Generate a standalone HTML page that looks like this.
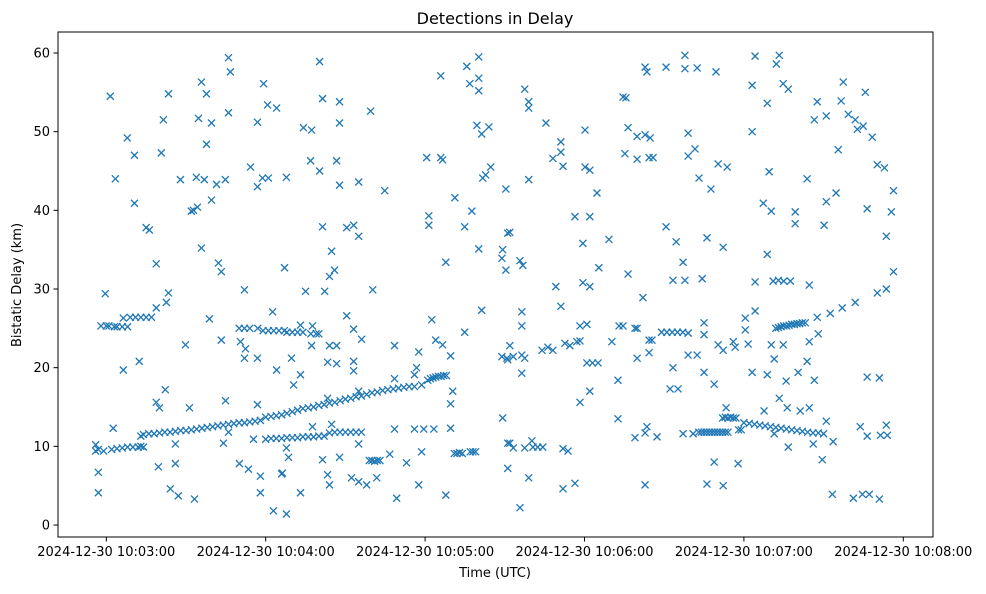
<!DOCTYPE html>
<html>
<head>
<meta charset="utf-8">
<style>
  html,body{margin:0;padding:0;background:#fff;}
  body{width:986px;height:590px;overflow:hidden;font-family:"DejaVu Sans","Liberation Sans",sans-serif;}
  svg text{font-family:"DejaVu Sans","Liberation Sans",sans-serif;fill:#000;}
</style>
</head>
<body>
<svg id="chart" width="986" height="590" viewBox="0 0 986 590" xmlns="http://www.w3.org/2000/svg">
  <rect x="0" y="0" width="986" height="590" fill="#fff"/>
  <text x="495" y="24" font-size="16" text-anchor="middle">Detections in Delay</text>
  <g id="marks"></g>
  <g id="xticks"></g>
  <g id="yticks"></g>
  <rect x="58" y="32" width="875" height="505" fill="none" stroke="#000" stroke-width="1"/>
  <text x="495" y="577" font-size="13" text-anchor="middle">Time (UTC)</text>
  <text x="21" y="285" font-size="13" text-anchor="middle" transform="rotate(-90 21 285)">Bistatic Delay (km)</text>
</svg>
<script>
// time in seconds after 2024-12-30 10:03:00 UTC, delay in km
const xTickLabels = ["2024-12-30 10:03:00","2024-12-30 10:04:00","2024-12-30 10:05:00","2024-12-30 10:06:00","2024-12-30 10:07:00","2024-12-30 10:08:00"];
const xTickValues = [0,60,120,180,240,300];
const yTickValues = [0,10,20,30,40,50,60];

const trackA = [[-4,9.4],[-3,9.6],[-1,9.4],[2,9.6],[4,9.7],[6,9.8],[8,9.9],[10,9.9],[12,9.9],[13,10.0],[14,9.9],
[13,11.3],[14,11.5],[16,11.6],[18,11.6],[20,11.7],[22,11.8],[24,11.8],[26,11.9],[28,12.0],[30,12.0],[32,12.1],[34,12.2],[36,12.3],[38,12.4],[40,12.5],[42,12.6],[44,12.7],[46,12.8],[48,12.9],[50,13.0],[52,13.0],[54,13.1],[56,13.2],[58,13.3],
[60,13.7],[62,13.8],[64,13.9],[66,14.0],[68,14.2],[70,14.4],[72,14.6],[74,14.8],[76,14.9],[78,15.0],[80,15.2],[82,15.3],[84,15.5],[86,15.6],[88,15.8],[90,16.0],[92,16.1],[94,16.3],[96,16.4],[98,16.6],[100,16.8],[102,16.9],[104,17.1],[106,17.2],[108,17.3],[110,17.4],[112,17.5],[114,17.6],[116,17.6],
[121,18.4],[122,18.6],[123,18.7],[124,18.8],[125,18.9],[126,18.9],[127,19.0],[128,19.0]];

const trackB = [[60,10.9],[62,11.0],[64,11.0],[66,11.0],[68,11.1],[70,11.1],[72,11.1],[74,11.2],[76,11.2],[78,11.2],[80,11.3],[82,11.3],[84,11.7],[86,11.8],[88,11.8],[90,11.8],[92,11.8],[94,11.8],[96,11.8],
[99,8.2],[100,8.2],[101,8.1],[102,8.2],[103,8.2],[131,9.1],[132,9.1],[133,9.2],[134,9.1],[137,9.3],[138,9.3],[139,9.3]];

const trackC = [[-2,25.3],[0,25.3],[1,25.3],[3,25.2],[4,25.2],[6,25.2],[8,25.2],[9,26.4],[11,26.4],[13,26.4],[15,26.4],[17,26.4],
[50,25.0],[52,25.0],[54,25.0],[57,25.0],[59,24.7],[61,24.7],[63,24.7],[65,24.7],[67,24.7],[68,24.5],[70,24.5],[72,24.5],[74,24.5],[77,24.3],[79,24.3],[80,24.3],
[209,24.5],[211,24.5],[213,24.5],[215,24.5],[217,24.5],[219,24.4],
[252,25.0],[253,25.1],[254,25.2],[255,25.3],[256,25.3],[257,25.4],[258,25.5],[259,25.5],[260,25.6],[261,25.6],[262,25.7]];

const trackD = [[223,11.8],[224,11.8],[225,11.8],[226,11.8],[227,11.8],[228,11.8],[229,11.8],[230,11.8],[231,11.8],[232,11.8],[233,11.8],[234,11.8],
[232,13.6],[233,13.7],[234,13.6],[235,13.7],[236,13.6],[237,13.6],[238,12.1],[239,12.1],
[240,13.0],[242,12.9],[244,12.8],[246,12.7],[248,12.6],[250,12.5],[252,12.4],[254,12.3],[256,12.2],[258,12.1],[260,12.0],[262,11.9],[264,11.8],[266,11.7],[268,11.7],[270,11.6]];

const scattered = [[-4,10.2],[-3,6.7],[-3,4.1],[-0.4,29.4],[1.5,54.5],[2.6,12.3],[3.4,44],[6.4,26.3],[6.4,19.7],[7.9,49.2],[10.6,47],[10.6,40.9],[12.4,20.8],
[15,37.8],[16.2,37.5],[18.8,33.2],[18.8,27.6],[22.6,28.3],[23.4,29.5],[20.7,47.3],[21.5,51.5],[23.4,54.8],[27.9,43.9],[32,39.9],[32.8,40],[34.3,40.4],[34.7,51.7],[35.8,56.3],[37.7,54.8],[37.7,48.4],[33.9,44.2],[36.9,43.9],[39.6,51.1],[39.6,41.3],[41.5,43.3],[44.8,43.9],[46,59.4],[46.7,57.6],[46,52.4],[54.3,45.5],[56.9,51.2],[56.9,43],[58.8,44.1],[61,44.1],[59.2,56.1],[60.7,53.4],[64.1,53],[35.8,35.2],[42.2,33.3],[43.3,32.2],[52,29.9],[62.6,27.1],[38.8,26.2],[29.8,22.9],[43.3,23.5],[50.5,23.3],[52.4,22.4],[52,21.2],[56.9,21.2],[64.1,19.7],[67.1,32.7],[22.2,17.2],[18.8,15.6],[20,14.9],[31.3,14.9],[44.9,15.8],[56.9,15.3],[26,10.3],[44.1,10.4],[46,11.8],[55.4,10.9],[19.6,7.4],[26,7.8],[50.1,7.8],[53.5,7.1],[58,6.2],[66,6.5],[24.1,4.6],[27.1,3.7],[33.2,3.3],[58,4.1],[62.9,1.8],
[80.3,58.9],[81.4,54.2],[87.8,53.8],[87.8,51.1],[99.5,52.6],[74.2,50.5],[77.3,50.2],[76.9,46.3],[80.3,45],[86.7,46.3],[87.8,43.2],[95,43.6],[104.8,42.5],[67.8,44.2],[81.4,37.9],[90.5,37.8],[93.1,38.1],[95,36.7],[84.8,34.8],[84,31.6],[85.9,32.4],[75,29.7],[82.2,29.7],[100.3,29.9],[90.5,26.6],[93.1,24.9],[96.1,23.6],[73.1,25.4],[77.6,25.3],[77.3,22.8],[84,22.8],[86.7,22.8],[69.7,21.2],[83.3,20.7],[86.7,20.5],[93.1,20.8],[93.1,19.6],[73.1,19.1],[70.5,17.8],[83.3,16.1],[95,17],[77.6,12.5],[84.8,12.8],[95,10.3],[67.8,9.8],[68.6,8.6],[81.4,8.3],[87.8,8.6],[66.3,6.6],[83.3,6.4],[84,5.1],[92.3,6],[95,5.5],[98,5.1],[101.8,6],[73.1,4.1],[67.8,1.4],
[108.5,22.8],[108.5,18.6],[106.7,9],[108.5,12.2],[113,7.9],[117.6,22],[116.8,20],[116,19.1],[118.7,17.8],[116,12.2],[119.5,12.2],[123.3,12.2],[118.7,9.3],[117.6,5.1],[109.3,3.4],[127.8,3.8],[129.6,12.3],[129.6,15.4],[130.4,17],[129.6,21.5],[126.6,22.9],[124,23.5],[122.5,26.1],[134.9,24.5],[127.8,33.4],[121.4,39.3],[121.4,38.1],[134.9,37.9],[137.6,39.9],[131.2,41.6],[120.6,46.7],[125.9,46.7],[126.6,46.4],[125.9,57.1],[135.7,58.3],[140.2,59.5],[136.8,56.1],[140.2,56.8],[140.2,55.2],[139.5,50.8],[144,50.6],[141.3,49.7],[141.7,44.1],[142.8,44.5],[144.7,45.5],[140.2,35.1],[141.3,27.3],[150.4,42.7],[151.1,37.1],[148.9,33.9],[150.4,32.4],[149.2,35],[148.9,21.4],[151.1,21],[149.2,13.6],[151.1,10.4],[151.1,7.2],
[157.5,55.4],[159,53.8],[159,53],[165.5,51.1],[171.1,48.7],[171.1,47.4],[168.1,46.6],[171.9,45.6],[180.2,50.2],[180.2,45.5],[182,45.1],[184.7,42.2],[159,43.9],[176.4,39.2],[182,39.2],[151.9,37.2],[155.7,33.6],[156.8,33],[179.4,35.8],[189.2,36.3],[185.4,32.7],[169.2,30.3],[171.1,27.8],[179.4,30.8],[182,30.3],[156.4,27.1],[156.4,25.3],[151.9,22.8],[150.8,21.2],[153.2,21.4],[156.4,21.6],[157.5,21.2],[156.4,19.3],[164,22.2],[166.2,22.6],[168.1,22.2],[172.6,23.1],[174.5,22.8],[177.1,23.3],[178.3,23.4],[178.3,25.3],[180.9,25.5],[180.9,20.6],[183,20.6],[185.1,20.6],[178.3,15.6],[182,17],[190.3,23.3],[192.6,18.4],[192.6,13.5],[193,25.3],[194.5,25.3],[199,25],[199.8,25],[202,28.9],[196.4,31.9],[199.8,21.2],[204.3,21.9],[204.3,23.5],[205.4,23.5],[203.5,12.5],[202.8,11.7],[199,11.1],[207.3,11.2],[202.8,5.1],[210.7,37.9],[214.5,36],[217.1,33.4],[213.3,31.1],[217.8,31.1],[224.3,31.3],[226.1,36.5],[232.2,35.3],[219,24.4],[225,24.2],[225,25.7],[230.3,22.9],[232.2,22.2],[219,21.6],[222.4,21.6],[213.3,20],[212.2,17.3],[215.2,17.3],[225,19.4],[228.8,17.9],[210.7,58.2],[217.8,58],[222.4,58.1],[202.8,58.2],[203.5,57.6],[229.5,57.6],[217.8,59.7],[194.5,54.4],[195.6,54.3],[196.4,50.5],[199.8,49.4],[202.8,49.6],[204.7,49.2],[195.2,47.2],[199.8,46.5],[204.3,46.7],[205.8,46.7],[219,49.8],[221.6,47.8],[219,46.9],[223.1,44.1],[227.6,42.7],[230.3,45.9],[233.7,45.5],[159,6],[171.9,4.6],[176.4,5.3],[155.7,2.2],[151.9,10.4],[153.2,9.8],[157.5,9.8],[160.2,10.7],[160.6,9.9],[162.4,9.9],[164.3,9.9],[171.9,9.7],[173.8,9.4],[217.1,11.6],[220.9,11.6],[226.1,5.2],[232.2,5],[228.8,8],
[244.2,59.6],[253.3,59.7],[252.2,58.6],[243.1,55.9],[254.8,56.1],[256.7,55.4],[248.8,53.6],[243.1,50],[267.6,53.8],[266.5,51.5],[271,52],[277.4,56.3],[276.6,53.9],[285.7,55],[279.3,52.2],[281.9,51.5],[282.7,50.3],[284.9,50.7],[288.3,49.3],[275.5,47.7],[290.2,45.8],[292.9,45.4],[296.3,42.5],[249.5,44.9],[263.8,44],[274.7,42.2],[271,41.1],[247.3,40.9],[250.3,39.9],[259.3,39.8],[259.3,38.3],[270.2,38.1],[286.4,40.2],[295.5,39.8],[293.6,36.7],[248.8,34.4],[244.2,30.9],[251,31],[253,31.1],[255,31],[257.5,31],[264.6,30.5],[296.3,32.2],[290.2,29.5],[293.6,30],[281.9,28.3],[277,27.6],[272.5,26.9],[267.6,26.4],[240.5,26.3],[244.2,27.2],[240.5,24.8],[263.1,25.7],[236,23.3],[236.7,22.6],[241.6,23],[250.3,22.9],[254.8,22.9],[264.6,23.3],[268,24.3],[251.4,21.1],[263.8,20.8],[243.1,19.4],[248.8,19.1],[255.9,18.3],[260.4,19.4],[266.5,18.4],[286.4,18.8],[291,18.7],[253.3,16.1],[256.3,14.9],[247.6,14.5],[261.2,14.5],[264.6,14.9],[271,13.2],[233.3,14.9],[237.8,7.8],[256.7,9.9],[251.4,11.6],[266.1,10.3],[269.5,8.3],[273.6,10.6],[283.8,12.5],[286.4,11.3],[291.4,11.4],[294,11.4],[293.6,12.7],[273.3,3.9],[281.2,3.4],[284.6,3.9],[287.2,3.9],[291,3.3]];

const X0 = 106.3, PX_PER_SEC = 159.4/60;
const Y0 = 525, PX_PER_KM = 7.867;
function xScale(s){ return X0 + s*PX_PER_SEC; }
function yScale(d){ return Y0 - d*PX_PER_KM; }

const NS = "http://www.w3.org/2000/svg";
const marks = document.getElementById("marks");
const groups = [["track-a",trackA],["track-b",trackB],["track-c",trackC],["track-d",trackD],["scattered",scattered]];
groups.forEach(function(g){
  g[1].forEach(function(p){
    const cx = xScale(p[0]), cy = yScale(p[1]), r = 3.5;
    const path = document.createElementNS(NS,"path");
    path.setAttribute("d","M"+(cx-r)+" "+(cy-r)+"L"+(cx+r)+" "+(cy+r)+"M"+(cx-r)+" "+(cy+r)+"L"+(cx+r)+" "+(cy-r));
    path.setAttribute("stroke","#1f77b4");
    path.setAttribute("stroke-width","1.3");
    path.setAttribute("fill","none");
    
    
    marks.appendChild(path);
  });
});

const xt = document.getElementById("xticks");
xTickValues.forEach(function(v,i){
  const x = xScale(v);
  const l = document.createElementNS(NS,"line");
  l.setAttribute("x1",x); l.setAttribute("x2",x); l.setAttribute("y1",537); l.setAttribute("y2",541.5);
  l.setAttribute("stroke","#000");
  
  
  xt.appendChild(l);
  const t = document.createElementNS(NS,"text");
  t.setAttribute("x",x); t.setAttribute("y",556); t.setAttribute("font-size","13"); t.setAttribute("text-anchor","middle");
  t.textContent = xTickLabels[i];
  
  
  xt.appendChild(t);
});
const yt = document.getElementById("yticks");
yTickValues.forEach(function(v){
  const y = yScale(v);
  const l = document.createElementNS(NS,"line");
  l.setAttribute("x1",53.5); l.setAttribute("x2",58); l.setAttribute("y1",y); l.setAttribute("y2",y);
  l.setAttribute("stroke","#000");
  
  
  yt.appendChild(l);
  const t = document.createElementNS(NS,"text");
  t.setAttribute("x",50); t.setAttribute("y",y+4.5); t.setAttribute("font-size","13"); t.setAttribute("text-anchor","end");
  t.textContent = String(v);
  
  
  yt.appendChild(t);
});
</script>
</body>
</html>
